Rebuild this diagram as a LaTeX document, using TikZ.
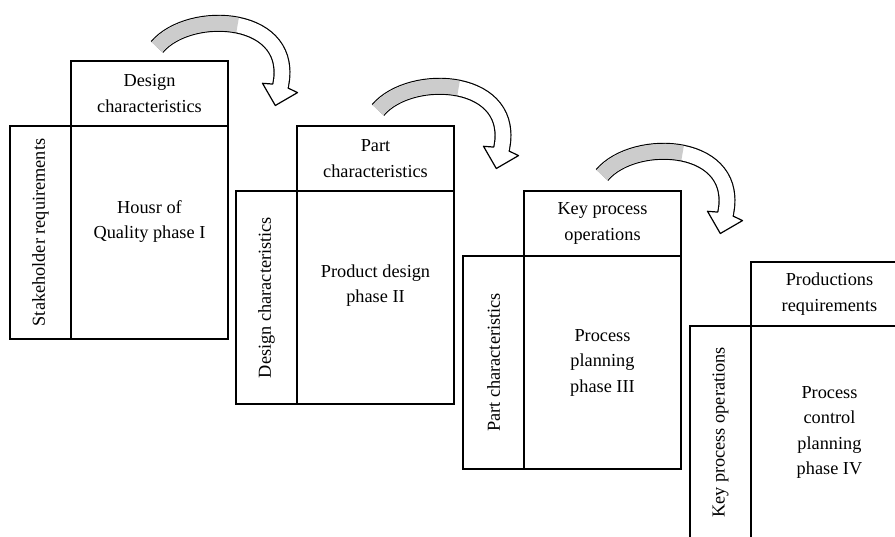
\documentclass[tikz,border=0pt]{standalone}
\usepackage{fontspec}
\setmainfont{Liberation Serif}
\usepackage{graphicx}
\usetikzlibrary{positioning}

\tikzset{
    qbox/.style={rectangle, draw, line width=1.4pt, inner sep=0pt, outer sep=0pt, align=center, minimum width=157pt},
    hdr/.style={qbox, minimum height=65pt},
    phase/.style={qbox, minimum height=213pt},
    side/.style={qbox, minimum width=61pt, minimum height=213pt},
}

\begin{document}
\begin{tikzpicture}[x=1pt, y=-1pt, font=\fontsize{18.3}{25.5}\selectfont]
    \useasboundingbox (0,0) rectangle (895,536);
    \clip (0,0) rectangle (895,536);

    % Phase I
    \node[hdr, anchor=north west] (H1) at (71,61) {Design\\characteristics};
    \node[phase, below=0pt of H1, text depth=26pt] (P1) {Housr of\\Quality phase I};
    \node[side, left=0pt of P1] (S1) {\rotatebox{90}{Stakeholder requirements}};

    % Phase II
    \node[hdr, anchor=north west] (H2) at (297,126) {Part\\characteristics};
    \node[phase, below=0pt of H2, text depth=28pt] (P2) {Product design\\phase II};
    \node[side, left=0pt of P2] (S2) {\rotatebox{90}{Design characteristics}};

    % Phase III
    \node[hdr, anchor=north west] (H3) at (524,191) {Key process\\operations};
    \node[phase, below=0pt of H3] (P3) {Process\\planning\\phase III};
    \node[side, left=0pt of P3] (S3) {\rotatebox{90}{Part characteristics}};

    % Phase IV
    \node[hdr, anchor=north west, minimum height=64pt] (H4) at (751,262) {Productions\\requirements};
    \node[phase, below=0pt of H4] (P4) {Process\\control\\planning\\phase IV};
    \node[side, left=0pt of P4] (S4) {\rotatebox{90}{Key process operations}};

    % Curved arrows between the phases
    \foreach \dx/\dy in {0/0, 221/63, 445/128} {
        \begin{scope}[shift={(\dx,\dy)}]
            \draw[line width=17pt] (157,47) .. controls (190,8) and (298,14) .. (280,88);
            \draw[line width=14.6pt, white] (157,47) .. controls (190,8) and (298,14) .. (280,88);
            \draw[line width=14.6pt, gray!40] (157,47) .. controls (173.5,27.5) and (208.75,19.25) .. (237.6,25.1);
            \filldraw[fill=white, line width=1.2pt, line join=round]
                (287.8,87.9) -- (297.5,92.6) -- (275.3,105.5) -- (262.5,83.3) -- (273.2,84.1);
        \end{scope}
    }
\end{tikzpicture}
\end{document}
